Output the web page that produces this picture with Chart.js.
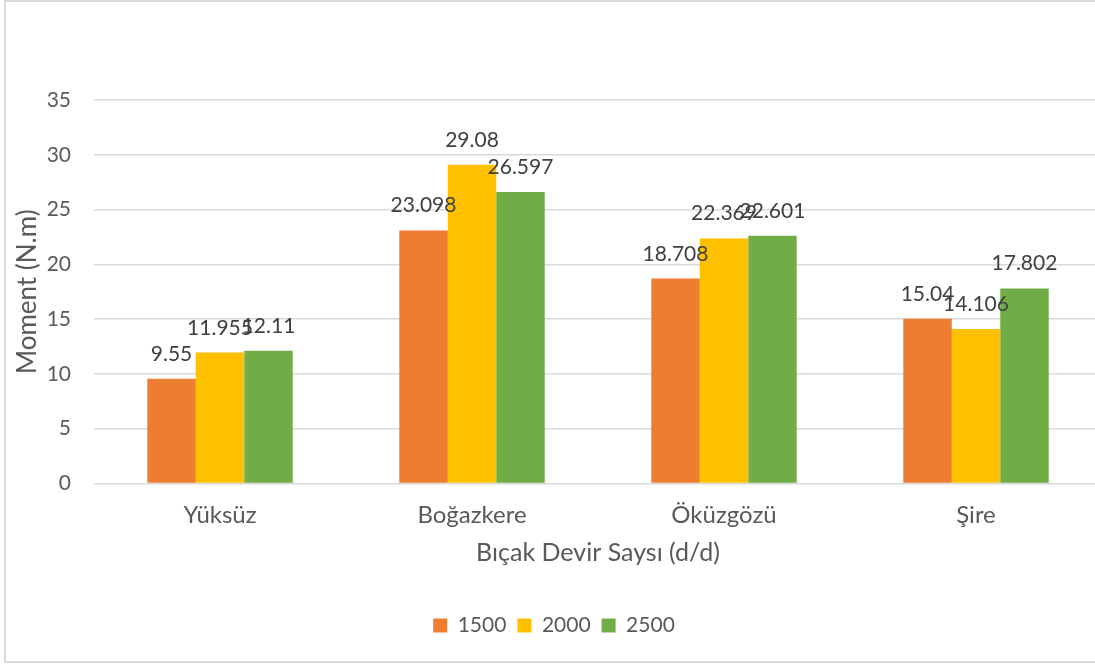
<!DOCTYPE html>
<html>
<head>
<meta charset="utf-8">
<script src="https://cdn.jsdelivr.net/npm/chart.js@4"></script>
<style>
  html, body { margin: 0; padding: 0; background: #fff; overflow: hidden; }
  #frame {
    position: absolute; left: 4px; top: 0; width: 1114px; height: 663px;
    box-sizing: border-box; border: 2px solid #d9d9d9; background: #fff;
  }
  #frame canvas { display: block; }
</style>
</head>
<body>
<div id="frame"><canvas id="momentChart" width="1110" height="659"></canvas></div>
<script>
const categories = ['Yüksüz', 'Boğazkere', 'Öküzgözü', 'Şire'];
const seriesNames = ['1500', '2000', '2500'];
const rpm1500 = [9.55, 23.098, 18.708, 15.04];
const rpm2000 = [11.955, 29.08, 22.369, 14.106];
const rpm2500 = [12.11, 26.597, 22.601, 17.802];
const yTicks = [0, 5, 10, 15, 20, 25, 30, 35];

const colors = ['#ED7D31', '#FFC000', '#70AD47'];
const FONT = 'Lato, "Open Sans", sans-serif';

// value labels drawn just above each bar
const barValueLabels = {
    id: 'barValueLabels',
    afterDatasetsDraw(chart) {
        const ctx = chart.ctx;
        ctx.save();
        ctx.font = '21px ' + FONT;
        ctx.fillStyle = '#404040';
        ctx.textAlign = 'center';
        ctx.textBaseline = 'alphabetic';
        chart.data.datasets.forEach((ds, i) => {
            chart.getDatasetMeta(i).data.forEach((bar, j) => {
                ctx.fillText(String(ds.data[j]), bar.x, bar.y - 18);
            });
        });
        ctx.restore();
    }
};

document.addEventListener('DOMContentLoaded', function () {
    const ctx = document.getElementById('momentChart');
    new Chart(ctx.getContext('2d'), {
        type: 'bar',
        data: {
            labels: categories,
            datasets: [rpm1500, rpm2000, rpm2500].map((vals, i) => ({
                label: seriesNames[i],
                data: vals,
                backgroundColor: colors[i],
                categoryPercentage: 0.577,
                barPercentage: 1
            }))
        },
        options: {
            responsive: false,
            animation: false,
            layout: { padding: { left: 0, right: 14, top: 98, bottom: 15 } },
            plugins: {
                tooltip: { enabled: false },
                legend: {
                    position: 'bottom',
                    labels: {
                        boxWidth: 14, boxHeight: 14, padding: 11,
                        color: '#595959',
                        font: { family: FONT, size: 21 }
                    }
                }
            },
            scales: {
                x: {
                    grid: { display: false },
                    border: { display: false },
                    ticks: { color: '#595959', padding: 9, font: { family: FONT, size: 24 } },
                    title: {
                        display: true, text: 'Bıçak Devir Saysı (d/d)', color: '#595959',
                        font: { family: FONT, size: 25 }, padding: { top: 0, bottom: 36 }
                    },
                    afterFit(axis) { axis.height = 120.5; }
                },
                y: {
                    min: 0, max: 35,
                    afterBuildTicks(axis) { axis.ticks = yTicks.map(v => ({ value: v })); },
                    grid: { color: '#d9d9d9', lineWidth: 1.5, drawTicks: false },
                    border: { display: false },
                    ticks: { color: '#595959', padding: 23, font: { family: FONT, size: 21 } },
                    title: {
                        display: true, text: 'Moment (N.m)', color: '#595959',
                        font: { family: FONT, size: 26 }, padding: { top: 6, bottom: 0 }
                    },
                    afterFit(axis) { axis.width = 88; }
                }
            }
        },
        plugins: [barValueLabels]
    });
});
</script>
</body>
</html>
